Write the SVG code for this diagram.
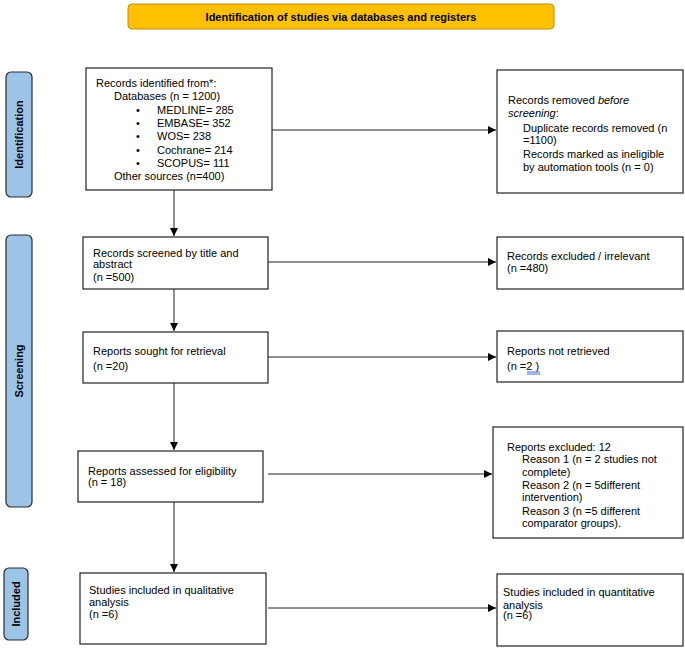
<svg xmlns="http://www.w3.org/2000/svg" width="685" height="648" viewBox="0 0 685 648">
<defs>
<marker id="ah" viewBox="0 0 10 10" refX="10" refY="5" markerWidth="8" markerHeight="8" markerUnits="userSpaceOnUse" orient="auto">
<path d="M0,0 L10,5 L0,10 z" fill="#000"/>
</marker>
</defs>
<style>
text{font-family:"Liberation Sans",Arial,sans-serif;font-size:11px;fill:#000}
.box{fill:#fff;stroke:#222;stroke-width:1.2}
.side{fill:#9DC3E6;stroke:#2b2b2b;stroke-width:1.2}
.lbl{font-weight:bold;font-size:11px}
.con{stroke:#222;stroke-width:1;fill:none;marker-end:url(#ah)}
</style>
<rect width="685" height="648" fill="#fff"/>
<g id="title">
<rect x="128" y="4" width="426" height="25" rx="4" fill="#FFC000" stroke="#C09000" stroke-width="1"/>
<text x="341" y="20.5" text-anchor="middle" class="lbl">Identification of studies via databases and registers</text>
</g>
<g id="side-identification">
<rect class="side" x="6" y="72" width="26" height="125" rx="5"/>
<text class="lbl" transform="translate(23,134.5) rotate(-90)" text-anchor="middle">Identification</text>
</g>
<g id="side-screening">
<rect class="side" x="6" y="235" width="26" height="272" rx="5"/>
<text class="lbl" transform="translate(23,371) rotate(-90)" text-anchor="middle">Screening</text>
</g>
<g id="side-included">
<rect class="side" x="4" y="568" width="24" height="72" rx="5"/>
<text class="lbl" transform="translate(20,604) rotate(-90)" text-anchor="middle">Included</text>
</g>
<g id="records-identified">
<rect class="box" x="86" y="68" width="186" height="122"/>
<text x="96" y="87">Records identified from*:</text>
<text x="114" y="100">Databases (n = 1200)</text>
<text x="136" y="113.5">•</text><text x="157" y="113.5">MEDLINE= 285</text>
<text x="136" y="127">•</text><text x="157" y="127">EMBASE= 352</text>
<text x="136" y="140">•</text><text x="157" y="140">WOS= 238</text>
<text x="136" y="153.5">•</text><text x="157" y="153.5">Cochrane= 214</text>
<text x="136" y="167">•</text><text x="157" y="167">SCOPUS= 111</text>
<text x="114" y="180">Other sources (n=400)</text>
</g>
<g id="records-removed">
<rect class="box" x="497" y="70" width="186" height="123"/>
<text x="508" y="104">Records removed <tspan font-style="italic">before</tspan></text>
<text x="508" y="117"><tspan font-style="italic">screening</tspan>:</text>
<text x="523" y="131.5">Duplicate records removed (n</text>
<text x="523" y="144">=1100)</text>
<text x="523" y="158">Records marked as ineligible</text>
<text x="523" y="171">by automation tools (n = 0)</text>
</g>
<g id="records-screened">
<rect class="box" x="83" y="237" width="185" height="52"/>
<text x="93" y="256.5">Records screened by title and</text>
<text x="93" y="268">abstract</text>
<text x="93" y="281">(n =500)</text>
</g>
<g id="records-excluded">
<rect class="box" x="497" y="237" width="186" height="52"/>
<text x="507" y="260">Records excluded / irrelevant</text>
<text x="507" y="272">(n =480)</text>
</g>
<g id="reports-sought">
<rect class="box" x="83" y="332" width="185" height="51"/>
<text x="93" y="354.5">Reports sought for retrieval</text>
<text x="93" y="369.5">(n =20)</text>
</g>
<g id="reports-not-retrieved">
<rect class="box" x="497" y="331" width="186" height="51"/>
<text x="507" y="354.5">Reports not retrieved</text>
<text x="507" y="369.5">(n =2 )</text>
<line x1="527" y1="372" x2="540" y2="372" stroke="#3a6fd8" stroke-width="1"/>
<line x1="527" y1="374" x2="540" y2="374" stroke="#3a6fd8" stroke-width="1"/>
</g>
<g id="reports-assessed">
<rect class="box" x="78" y="451" width="185" height="51"/>
<text x="88" y="474.5">Reports assessed for eligibility</text>
<text x="88" y="486">(n = 18)</text>
</g>
<g id="reports-excluded">
<rect class="box" x="493" y="427" width="190" height="111"/>
<text x="507" y="450.5">Reports excluded: 12</text>
<text x="522" y="463">Reason 1 (n = 2 studies not</text>
<text x="522" y="476">complete)</text>
<text x="522" y="489">Reason 2 (n = 5different</text>
<text x="522" y="501">intervention)</text>
<text x="522" y="514.5">Reason 3 (n =5 different</text>
<text x="522" y="527">comparator groups).</text>
</g>
<g id="studies-qualitative">
<rect class="box" x="80" y="573" width="186" height="71"/>
<text x="89" y="594">Studies included in qualitative</text>
<text x="89" y="606">analysis</text>
<text x="89" y="618">(n =6)</text>
</g>
<g id="studies-quantitative">
<rect class="box" x="497" y="574" width="186" height="72"/>
<text x="503" y="596">Studies included in quantitative</text>
<text x="503" y="608.5">analysis</text>
<text x="503" y="619">(n =6)</text>
</g>
<g id="connectors">
<path class="con" d="M272,130 L496,130"/>
<path class="con" d="M174,190 L174,236"/>
<path class="con" d="M268,262 L496,262"/>
<path class="con" d="M174,289 L174,331"/>
<path class="con" d="M268,357 L496,357"/>
<path class="con" d="M174,383 L174,450"/>
<path class="con" d="M268,474 L492,474"/>
<path class="con" d="M174,502 L174,572"/>
<path class="con" d="M268,608 L496,608"/>
</g>
</svg>
